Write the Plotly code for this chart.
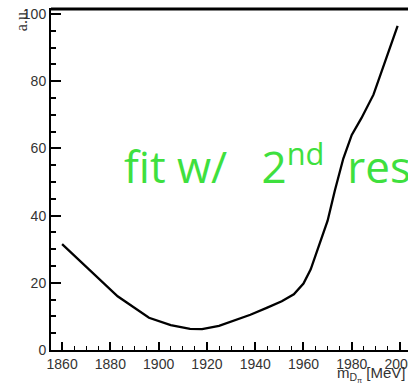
import plotly.graph_objects as go

mass = [1860, 1869, 1883, 1896, 1905, 1913, 1918, 1925, 1931, 1938, 1945, 1951,
        1956, 1960, 1963, 1966, 1970, 1973, 1976.5, 1980, 1984, 1989, 1993, 1996.5, 1999]
values = [31.5, 25.5, 16.0, 9.6, 7.4, 6.3, 6.2, 7.2, 8.7, 10.5, 12.6, 14.5,
          16.6, 19.8, 24.0, 30.0, 38.5, 47.5, 57.0, 64.0, 69.0, 76.0, 84.0, 91.0, 96.5]

x_ticks = [1860, 1880, 1900, 1920, 1940, 1960, 1980, 2000]
y_ticks = [0, 20, 40, 60, 80, 100]

fig = go.Figure()
fig.add_trace(go.Scatter(x=mass, y=values, mode="lines",
                         line=dict(color="black", width=2.3), showlegend=False))

tickfont = dict(family="Liberation Sans, Arial", size=14, color="#333")
fig.update_layout(
    width=408, height=385,
    margin=dict(l=51, r=0, t=10, b=35),
    paper_bgcolor="white", plot_bgcolor="white",
    xaxis=dict(range=[1855.4, 2003.3], tickvals=x_ticks, ticktext=[str(v) for v in x_ticks],
               ticks="inside", ticklen=8, tickwidth=2, tickcolor="black",
               minor=dict(dtick=5, tick0=1860, ticks="inside", ticklen=4, tickwidth=1, tickcolor="black"),
               showline=True, linecolor="black", linewidth=2, mirror=True,
               ticklabeloverflow="allow",
               showgrid=False, zeroline=False, tickfont=tickfont, automargin=False),
    yaxis=dict(range=[0, 101.2], tickvals=y_ticks, ticktext=[str(v) for v in y_ticks],
               ticks="inside", ticklen=10, tickwidth=2, tickcolor="black",
               minor=dict(dtick=5, tick0=0, ticks="inside", ticklen=5, tickwidth=1.5, tickcolor="black"),
               showline=True, linecolor="black", linewidth=2,
               showgrid=False, zeroline=False, tickfont=tickfont, automargin=False),
)
fig.add_shape(type="line", xref="paper", yref="paper", x0=0, x1=1, y0=1.003, y1=1.003,
              line=dict(color="black", width=3))

fig.add_annotation(text="a.u.", textangle=-90, xref="paper", yref="paper",
                   x=-0.082, y=1.012, xanchor="center", yanchor="top", showarrow=False,
                   font=dict(family="Liberation Serif, Times New Roman", size=16, color="#333"))
fig.add_annotation(text="m<sub>D<sub>π</sub></sub> [MeV]", xref="paper", yref="paper",
                   x=1.0, y=-0.036, xanchor="right", yanchor="top", showarrow=False,
                   font=dict(family="Liberation Sans, Arial", size=15, color="#333"))
fig.add_annotation(text="fit w/&nbsp;&nbsp; 2<sup>nd</sup>&nbsp;&nbsp;res", xref="paper", yref="paper",
                   x=0.2, y=0.547, xanchor="left", yanchor="middle", showarrow=False,
                   font=dict(family="Open Sans", size=44, color="#3ee03e"))

fig.write_html("out.html")
